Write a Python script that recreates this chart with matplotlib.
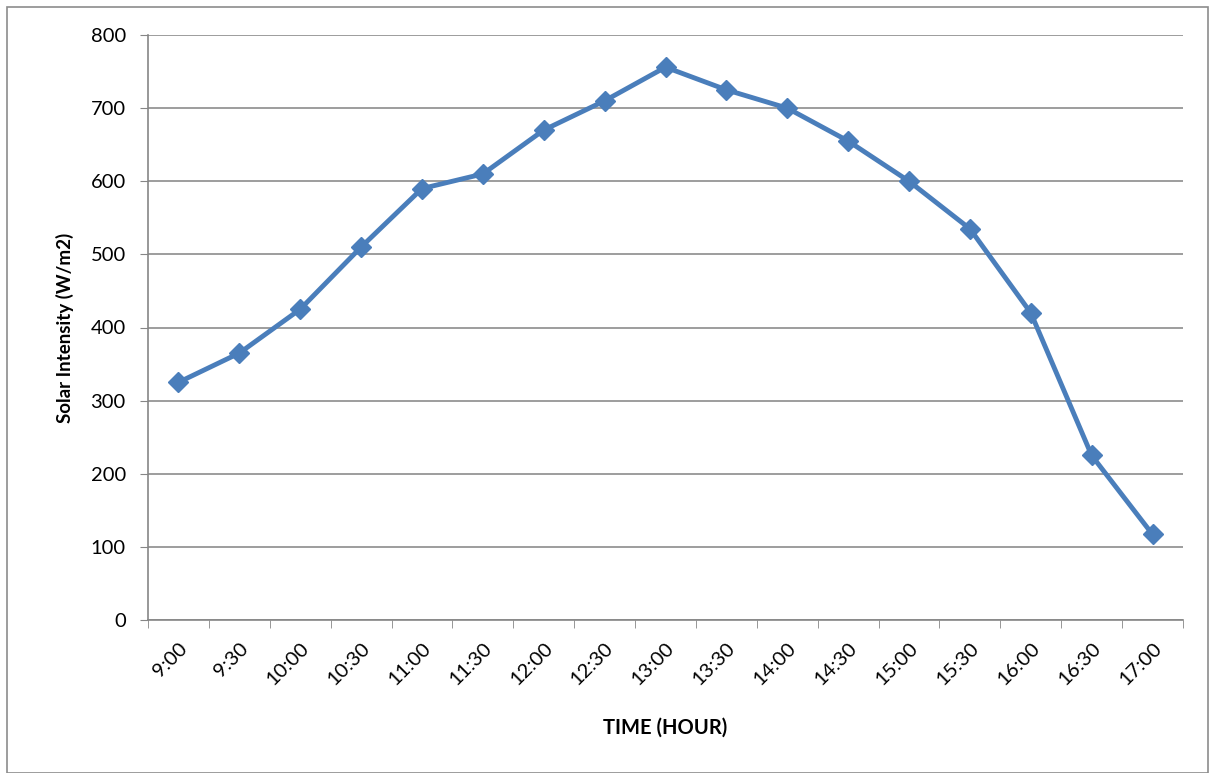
import matplotlib
matplotlib.use("Agg")
import matplotlib.pyplot as plt
import numpy as np
from matplotlib.patches import Rectangle

times = ['9:00', '9:30', '10:00', '10:30', '11:00', '11:30', '12:00', '12:30', '13:00',
         '13:30', '14:00', '14:30', '15:00', '15:30', '16:00', '16:30', '17:00']
intensity = [325, 365, 425, 510, 590, 610, 670, 710, 756, 725, 700, 655, 600, 535, 420, 225, 117]
y_ticks = [0, 100, 200, 300, 400, 500, 600, 700, 800]

plt.rcParams['font.family'] = ['Lato', 'DejaVu Sans']

fig = plt.figure(figsize=(12.15, 7.73), dpi=100)
ax = fig.add_axes([148 / 1215, 1 - 620 / 773, (1183 - 148) / 1215, (620 - 35) / 773])

x = np.arange(len(times))
ax.plot(x, intensity, color='#4a7ebb', linewidth=3.5, marker='D', markersize=10,
        markerfacecolor='#4a7ebb', markeredgecolor='#4a7ebb', zorder=3)

ax.set_xlim(-0.5, len(times) - 0.5)
ax.set_ylim(0, 800)
ax.set_yticks(y_ticks)
ax.set_yticklabels([str(v) for v in y_ticks], fontsize=14.5)
ax.set_xticks(x)
ax.set_xticklabels(times, rotation=45, ha='right', rotation_mode='anchor', fontsize=14.5)
ax.set_xticks(np.arange(-0.5, len(times), 1.0), minor=True)
ax.tick_params(axis='x', which='major', length=0, pad=14)
ax.tick_params(axis='x', which='minor', length=6, color='#868686', direction='out')
ax.tick_params(axis='y', length=6, color='#868686', direction='out', pad=10)

ax.grid(axis='y', color='#8c8c8c', linewidth=1.2)
ax.set_axisbelow(True)
for side in ['top', 'right']:
    ax.spines[side].set_visible(False)
for side in ['left', 'bottom']:
    ax.spines[side].set_color('#868686')
    ax.spines[side].set_linewidth(1.2)

ax.set_ylabel('Solar Intensity (W/m2)', fontsize=13.5, fontweight='bold', labelpad=12)
fig.text((148 + 1183) / 2 / 1215, 1 - 728 / 773, 'TIME (HOUR)', fontsize=14.5,
         fontweight='bold', ha='center', va='center')

fig.patches.append(Rectangle((7 / 1215, 0), 1201 / 1215, 1 - 7 / 773, transform=fig.transFigure,
                             fill=False, edgecolor='#8c8c8c', linewidth=1.2))

fig.savefig('out.png', dpi=100)
